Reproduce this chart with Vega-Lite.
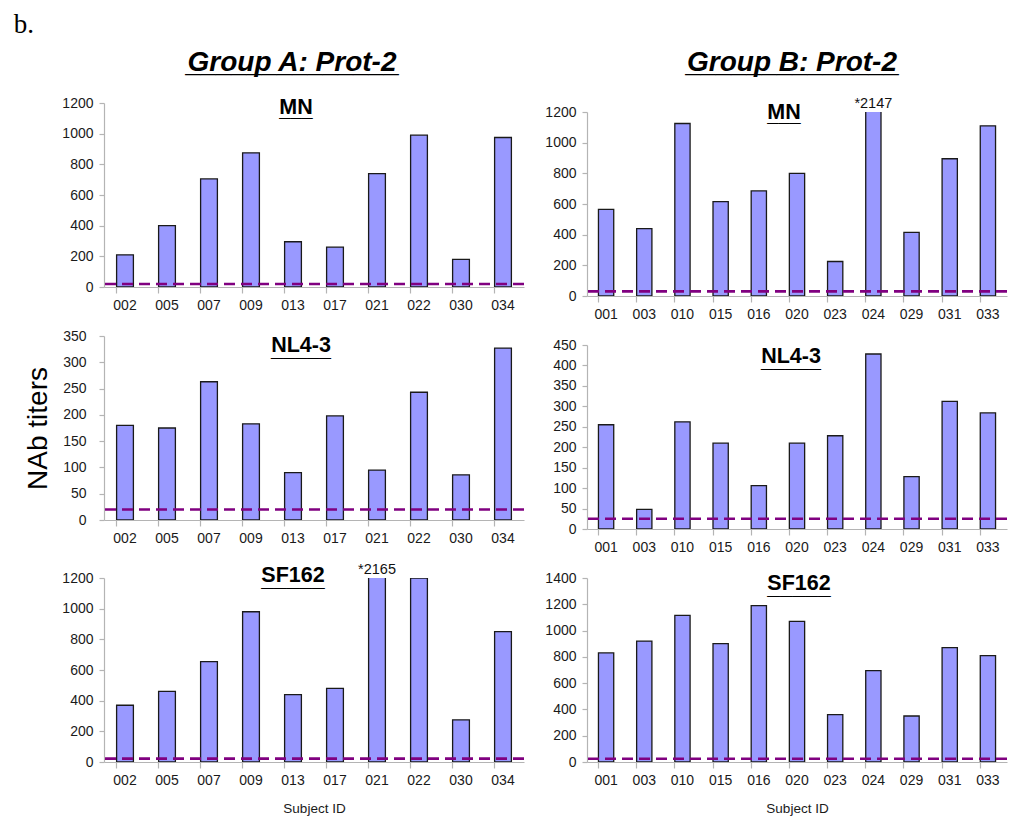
{
  "$schema": "https://vega.github.io/schema/vega-lite/v6.json",
  "background": "white",
  "padding": {"left": 13, "top": 10, "right": 5, "bottom": 5},
  "title": {"text": "b.", "anchor": "start", "font": "Liberation Serif", "fontSize": 27, "fontWeight": "normal", "color": "#000", "dx": -11, "offset": 10},
  "datasets": {
    "titers": [
      {"group": "A", "strain": "MN", "subject": "002", "titer": 210},
      {"group": "A", "strain": "MN", "subject": "005", "titer": 400},
      {"group": "A", "strain": "MN", "subject": "007", "titer": 705},
      {"group": "A", "strain": "MN", "subject": "009", "titer": 875},
      {"group": "A", "strain": "MN", "subject": "013", "titer": 295},
      {"group": "A", "strain": "MN", "subject": "017", "titer": 260},
      {"group": "A", "strain": "MN", "subject": "021", "titer": 740},
      {"group": "A", "strain": "MN", "subject": "022", "titer": 990},
      {"group": "A", "strain": "MN", "subject": "030", "titer": 180},
      {"group": "A", "strain": "MN", "subject": "034", "titer": 975},
      {"group": "A", "strain": "NL4-3", "subject": "002", "titer": 180},
      {"group": "A", "strain": "NL4-3", "subject": "005", "titer": 175},
      {"group": "A", "strain": "NL4-3", "subject": "007", "titer": 263},
      {"group": "A", "strain": "NL4-3", "subject": "009", "titer": 183},
      {"group": "A", "strain": "NL4-3", "subject": "013", "titer": 90},
      {"group": "A", "strain": "NL4-3", "subject": "017", "titer": 198},
      {"group": "A", "strain": "NL4-3", "subject": "021", "titer": 95},
      {"group": "A", "strain": "NL4-3", "subject": "022", "titer": 243},
      {"group": "A", "strain": "NL4-3", "subject": "030", "titer": 86},
      {"group": "A", "strain": "NL4-3", "subject": "034", "titer": 327},
      {"group": "A", "strain": "SF162", "subject": "002", "titer": 370},
      {"group": "A", "strain": "SF162", "subject": "005", "titer": 460},
      {"group": "A", "strain": "SF162", "subject": "007", "titer": 655},
      {"group": "A", "strain": "SF162", "subject": "009", "titer": 980},
      {"group": "A", "strain": "SF162", "subject": "013", "titer": 440},
      {"group": "A", "strain": "SF162", "subject": "017", "titer": 480},
      {"group": "A", "strain": "SF162", "subject": "021", "titer": 2165},
      {"group": "A", "strain": "SF162", "subject": "022", "titer": 1200},
      {"group": "A", "strain": "SF162", "subject": "030", "titer": 275},
      {"group": "A", "strain": "SF162", "subject": "034", "titer": 850},
      {"group": "B", "strain": "MN", "subject": "001", "titer": 565},
      {"group": "B", "strain": "MN", "subject": "003", "titer": 440},
      {"group": "B", "strain": "MN", "subject": "010", "titer": 1125},
      {"group": "B", "strain": "MN", "subject": "015", "titer": 615},
      {"group": "B", "strain": "MN", "subject": "016", "titer": 685},
      {"group": "B", "strain": "MN", "subject": "020", "titer": 800},
      {"group": "B", "strain": "MN", "subject": "023", "titer": 225},
      {"group": "B", "strain": "MN", "subject": "024", "titer": 2147},
      {"group": "B", "strain": "MN", "subject": "029", "titer": 415},
      {"group": "B", "strain": "MN", "subject": "031", "titer": 895},
      {"group": "B", "strain": "MN", "subject": "033", "titer": 1110},
      {"group": "B", "strain": "NL4-3", "subject": "001", "titer": 255},
      {"group": "B", "strain": "NL4-3", "subject": "003", "titer": 48},
      {"group": "B", "strain": "NL4-3", "subject": "010", "titer": 262},
      {"group": "B", "strain": "NL4-3", "subject": "015", "titer": 210},
      {"group": "B", "strain": "NL4-3", "subject": "016", "titer": 106},
      {"group": "B", "strain": "NL4-3", "subject": "020", "titer": 210},
      {"group": "B", "strain": "NL4-3", "subject": "023", "titer": 228},
      {"group": "B", "strain": "NL4-3", "subject": "024", "titer": 428},
      {"group": "B", "strain": "NL4-3", "subject": "029", "titer": 128},
      {"group": "B", "strain": "NL4-3", "subject": "031", "titer": 312},
      {"group": "B", "strain": "NL4-3", "subject": "033", "titer": 284},
      {"group": "B", "strain": "SF162", "subject": "001", "titer": 830},
      {"group": "B", "strain": "SF162", "subject": "003", "titer": 920},
      {"group": "B", "strain": "SF162", "subject": "010", "titer": 1115},
      {"group": "B", "strain": "SF162", "subject": "015", "titer": 900},
      {"group": "B", "strain": "SF162", "subject": "016", "titer": 1190},
      {"group": "B", "strain": "SF162", "subject": "020", "titer": 1070},
      {"group": "B", "strain": "SF162", "subject": "023", "titer": 360},
      {"group": "B", "strain": "SF162", "subject": "024", "titer": 695},
      {"group": "B", "strain": "SF162", "subject": "029", "titer": 350},
      {"group": "B", "strain": "SF162", "subject": "031", "titer": 870},
      {"group": "B", "strain": "SF162", "subject": "033", "titer": 810}
    ],
    "cutoffs": [
      {"group": "A", "strain": "MN", "cutoff": 20},
      {"group": "A", "strain": "NL4-3", "cutoff": 20},
      {"group": "A", "strain": "SF162", "cutoff": 22},
      {"group": "B", "strain": "MN", "cutoff": 30},
      {"group": "B", "strain": "NL4-3", "cutoff": 25},
      {"group": "B", "strain": "SF162", "cutoff": 25}
    ]
  },
  "columns": 2,
  "align": {"row": "none", "column": "each"},
  "spacing": {"row": 17, "column": 18},
  "concat": [
    {
      "width": 420, "height": 1,
      "data": {"values": []},
      "mark": "point",
      "title": {"text": "Group A: Prot-2", "subtitle": "______________", "subtitleFontSize": 27.4, "subtitlePadding": -27, "fontSize": 28, "fontWeight": "bold", "fontStyle": "italic", "offset": 1, "dx": -22}
    },
    {
      "width": 420, "height": 1,
      "data": {"values": []},
      "mark": "point",
      "title": {"text": "Group B: Prot-2", "subtitle": "______________", "subtitleFontSize": 27.4, "subtitlePadding": -27, "fontSize": 28, "fontWeight": "bold", "fontStyle": "italic", "offset": 1, "dx": -5}
    },
    {
      "width": 420, "height": 184,
      "title": {"text": "MN", "subtitle": "___", "subtitleFontSize": 20, "offset": -24, "dx": -18},
      "layer": [
        {
          "data": {"name": "titers"},
          "transform": [{"filter": "datum.group === 'A' && datum.strain === 'MN'"}],
          "mark": {"type": "bar", "clip": true, "fill": "#9999ff", "stroke": "#1a1a1a", "strokeWidth": 1.3},
          "encoding": {
            "x": {"field": "subject", "type": "nominal", "sort": null, "scale": {"paddingInner": 0.6, "paddingOuter": 0.3}, "axis": {"title": null}},
            "y": {"field": "titer", "type": "quantitative", "scale": {"domain": [0, 1200], "nice": false}, "axis": {"values": [0, 200, 400, 600, 800, 1000, 1200], "title": null}}
          }
        },
        {
          "data": {"name": "cutoffs"},
          "transform": [{"filter": "datum.group === 'A' && datum.strain === 'MN'"}],
          "mark": {"type": "rule", "color": "#800080", "strokeWidth": 2.6, "strokeDash": [11, 6]},
          "encoding": {"y": {"field": "cutoff", "type": "quantitative", "axis": {"values": [0, 200, 400, 600, 800, 1000, 1200], "title": null}}}
        }
      ]
    },
    {
      "width": 420, "height": 184,
      "title": {"text": "MN", "subtitle": "___", "subtitleFontSize": 20, "offset": -29, "dx": -13},
      "layer": [
        {
          "data": {"name": "titers"},
          "transform": [{"filter": "datum.group === 'B' && datum.strain === 'MN'"}],
          "mark": {"type": "bar", "clip": true, "fill": "#9999ff", "stroke": "#1a1a1a", "strokeWidth": 1.3},
          "encoding": {
            "x": {"field": "subject", "type": "nominal", "sort": null, "scale": {"paddingInner": 0.6, "paddingOuter": 0.3}, "axis": {"title": null}},
            "y": {"field": "titer", "type": "quantitative", "scale": {"domain": [0, 1200], "nice": false}, "axis": {"values": [0, 200, 400, 600, 800, 1000, 1200], "title": null}}
          }
        },
        {
          "data": {"name": "cutoffs"},
          "transform": [{"filter": "datum.group === 'B' && datum.strain === 'MN'"}],
          "mark": {"type": "rule", "color": "#800080", "strokeWidth": 2.6, "strokeDash": [11, 6]},
          "encoding": {"y": {"field": "cutoff", "type": "quantitative", "axis": {"values": [0, 200, 400, 600, 800, 1000, 1200], "title": null}}}
        },
        {
          "data": {"name": "titers"},
          "transform": [
            {"filter": "datum.group === 'B' && datum.strain === 'MN' && datum.titer > 1200"},
            {"calculate": "'*' + datum.titer", "as": "label"}
          ],
          "mark": {"type": "text", "baseline": "bottom", "dy": -1, "fontSize": 14.5, "color": "#111"},
          "encoding": {
            "x": {"field": "subject", "type": "nominal", "sort": null},
            "y": {"datum": 1200, "type": "quantitative", "axis": {"values": [0, 200, 400, 600, 800, 1000, 1200], "title": null}},
            "text": {"field": "label"}
          }
        }
      ]
    },
    {
      "width": 420, "height": 184,
      "title": {"text": "NL4-3", "subtitle": "_____", "subtitleFontSize": 21.5, "offset": -31, "dx": -13},
      "layer": [
        {
          "data": {"name": "titers"},
          "transform": [{"filter": "datum.group === 'A' && datum.strain === 'NL4-3'"}],
          "mark": {"type": "bar", "clip": true, "fill": "#9999ff", "stroke": "#1a1a1a", "strokeWidth": 1.3},
          "encoding": {
            "x": {"field": "subject", "type": "nominal", "sort": null, "scale": {"paddingInner": 0.6, "paddingOuter": 0.3}, "axis": {"title": null}},
            "y": {"field": "titer", "type": "quantitative", "scale": {"domain": [0, 350], "nice": false}, "axis": {"values": [0, 50, 100, 150, 200, 250, 300, 350], "title": "NAb titers", "titleFontSize": 28, "titlePadding": 10, "titleColor": "#000", "labelPadding": 13}}
          }
        },
        {
          "data": {"name": "cutoffs"},
          "transform": [{"filter": "datum.group === 'A' && datum.strain === 'NL4-3'"}],
          "mark": {"type": "rule", "color": "#800080", "strokeWidth": 2.6, "strokeDash": [11, 6]},
          "encoding": {"y": {"field": "cutoff", "type": "quantitative", "axis": {"values": [0, 50, 100, 150, 200, 250, 300, 350], "title": "NAb titers", "titleFontSize": 28, "titlePadding": 10, "titleColor": "#000", "labelPadding": 13}}}
        }
      ]
    },
    {
      "width": 420, "height": 184,
      "title": {"text": "NL4-3", "subtitle": "_____", "subtitleFontSize": 21.5, "offset": -33, "dx": -6},
      "layer": [
        {
          "data": {"name": "titers"},
          "transform": [{"filter": "datum.group === 'B' && datum.strain === 'NL4-3'"}],
          "mark": {"type": "bar", "clip": true, "fill": "#9999ff", "stroke": "#1a1a1a", "strokeWidth": 1.3},
          "encoding": {
            "x": {"field": "subject", "type": "nominal", "sort": null, "scale": {"paddingInner": 0.6, "paddingOuter": 0.3}, "axis": {"title": null}},
            "y": {"field": "titer", "type": "quantitative", "scale": {"domain": [0, 450], "nice": false}, "axis": {"values": [0, 50, 100, 150, 200, 250, 300, 350, 400, 450], "title": null}}
          }
        },
        {
          "data": {"name": "cutoffs"},
          "transform": [{"filter": "datum.group === 'B' && datum.strain === 'NL4-3'"}],
          "mark": {"type": "rule", "color": "#800080", "strokeWidth": 2.6, "strokeDash": [11, 6]},
          "encoding": {"y": {"field": "cutoff", "type": "quantitative", "axis": {"values": [0, 50, 100, 150, 200, 250, 300, 350, 400, 450], "title": null}}}
        }
      ]
    },
    {
      "width": 420, "height": 184,
      "title": {"text": "SF162", "subtitle": "_____", "subtitleFontSize": 22.8, "offset": -29, "dx": -21},
      "layer": [
        {
          "data": {"name": "titers"},
          "transform": [{"filter": "datum.group === 'A' && datum.strain === 'SF162'"}],
          "mark": {"type": "bar", "clip": true, "fill": "#9999ff", "stroke": "#1a1a1a", "strokeWidth": 1.3},
          "encoding": {
            "x": {"field": "subject", "type": "nominal", "sort": null, "scale": {"paddingInner": 0.6, "paddingOuter": 0.3}, "axis": {"title": "Subject ID", "titleFontSize": 13.5, "titlePadding": 14}},
            "y": {"field": "titer", "type": "quantitative", "scale": {"domain": [0, 1200], "nice": false}, "axis": {"values": [0, 200, 400, 600, 800, 1000, 1200], "title": null}}
          }
        },
        {
          "data": {"name": "cutoffs"},
          "transform": [{"filter": "datum.group === 'A' && datum.strain === 'SF162'"}],
          "mark": {"type": "rule", "color": "#800080", "strokeWidth": 2.6, "strokeDash": [11, 6]},
          "encoding": {"y": {"field": "cutoff", "type": "quantitative", "axis": {"values": [0, 200, 400, 600, 800, 1000, 1200], "title": null}}}
        },
        {
          "data": {"name": "titers"},
          "transform": [
            {"filter": "datum.group === 'A' && datum.strain === 'SF162' && datum.titer > 1200"},
            {"calculate": "'*' + datum.titer", "as": "label"}
          ],
          "mark": {"type": "text", "baseline": "bottom", "dy": -1, "fontSize": 14.5, "color": "#111"},
          "encoding": {
            "x": {"field": "subject", "type": "nominal", "sort": null},
            "y": {"datum": 1200, "type": "quantitative", "axis": {"values": [0, 200, 400, 600, 800, 1000, 1200], "title": null}},
            "text": {"field": "label"}
          }
        }
      ]
    },
    {
      "width": 420, "height": 184,
      "title": {"text": "SF162", "subtitle": "_____", "subtitleFontSize": 22.8, "offset": -28, "dx": 2},
      "layer": [
        {
          "data": {"name": "titers"},
          "transform": [{"filter": "datum.group === 'B' && datum.strain === 'SF162'"}],
          "mark": {"type": "bar", "clip": true, "fill": "#9999ff", "stroke": "#1a1a1a", "strokeWidth": 1.3},
          "encoding": {
            "x": {"field": "subject", "type": "nominal", "sort": null, "scale": {"paddingInner": 0.6, "paddingOuter": 0.3}, "axis": {"title": "Subject ID", "titleFontSize": 13.5, "titlePadding": 14}},
            "y": {"field": "titer", "type": "quantitative", "scale": {"domain": [0, 1400], "nice": false}, "axis": {"values": [0, 200, 400, 600, 800, 1000, 1200, 1400], "title": null}}
          }
        },
        {
          "data": {"name": "cutoffs"},
          "transform": [{"filter": "datum.group === 'B' && datum.strain === 'SF162'"}],
          "mark": {"type": "rule", "color": "#800080", "strokeWidth": 2.6, "strokeDash": [11, 6]},
          "encoding": {"y": {"field": "cutoff", "type": "quantitative", "axis": {"values": [0, 200, 400, 600, 800, 1000, 1200, 1400], "title": null}}}
        }
      ]
    }
  ],
  "config": {
    "view": {"stroke": null},
    "font": "Liberation Sans",
    "title": {"font": "Liberation Sans", "fontSize": 21.5, "fontWeight": "bold", "color": "#000", "baseline": "alphabetic", "anchor": "middle", "subtitleFont": "Liberation Sans", "subtitleFontWeight": "bold", "subtitleColor": "#000", "subtitlePadding": -18},
    "axis": {
      "domainColor": "#b4b4b4", "tickColor": "#b4b4b4", "domainWidth": 1.2, "tickWidth": 1.2,
      "labelColor": "#1a1a1a", "labelFont": "Liberation Sans", "labelFontSize": 14,
      "titleFont": "Liberation Sans", "titleFontWeight": "normal", "titleColor": "#1a1a1a",
      "grid": false, "labelOverlap": false
    },
    "axisX": {"bandPosition": 0, "labelAngle": 0, "tickSize": 6, "labelPadding": 5},
    "axisY": {"tickSize": 5, "labelPadding": 6, "format": "d"}
  }
}
